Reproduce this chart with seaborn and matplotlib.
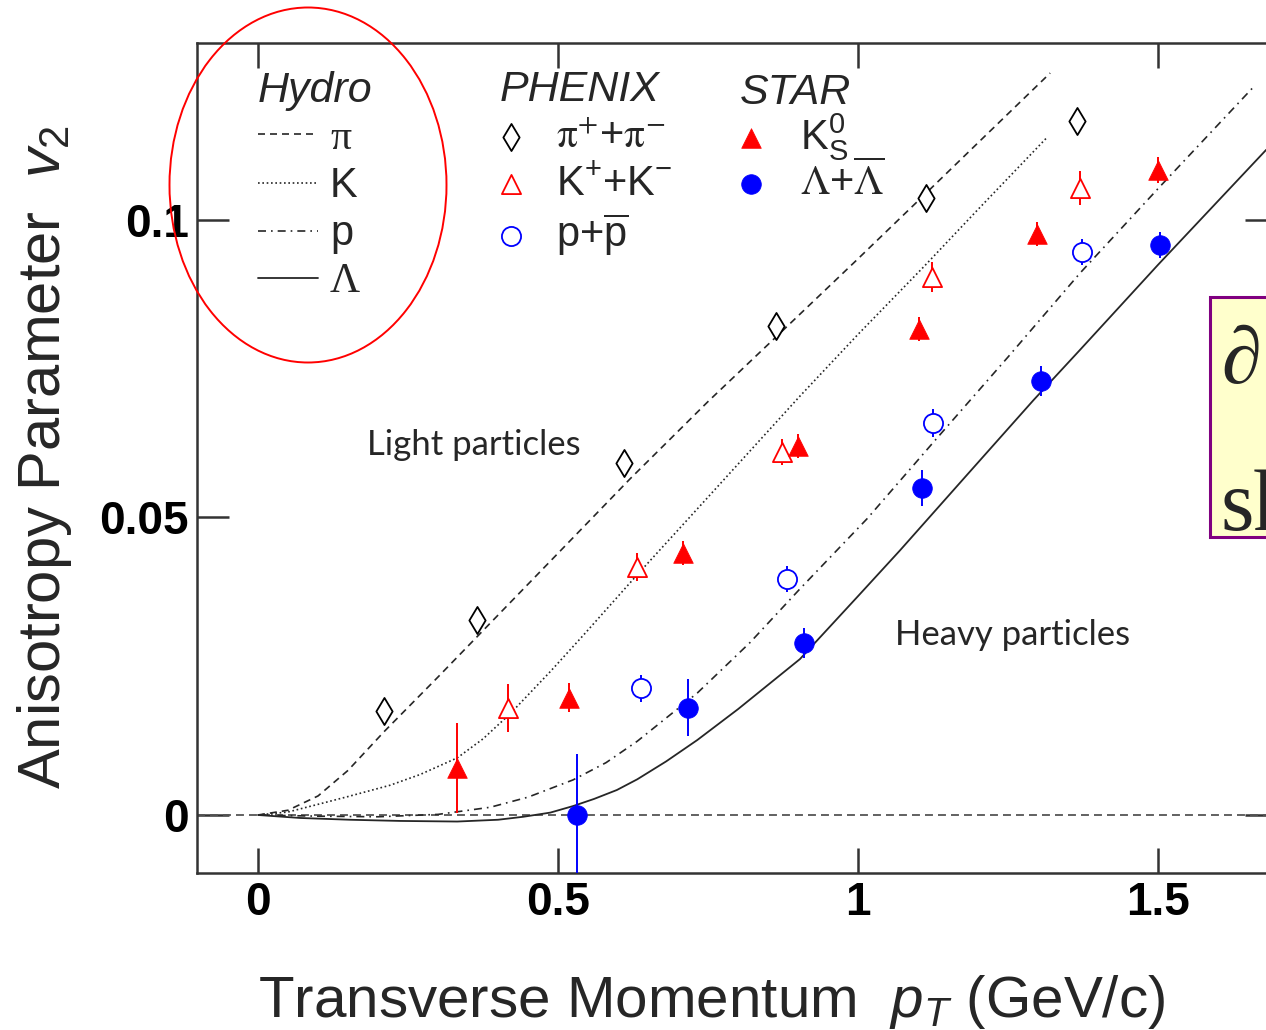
import matplotlib
matplotlib.use("Agg")
import matplotlib.pyplot as plt
import seaborn as sns
from matplotlib.patches import Ellipse, Rectangle

# ---------------- data ----------------
# Hydro curves
hydro_pi_pt = [0.0, 0.05, 0.10, 0.15, 0.21, 0.30, 0.375, 0.50, 0.62, 0.75, 0.87, 1.00, 1.11, 1.20, 1.32]
hydro_pi_v2 = [0.0, 0.0008, 0.0032, 0.0075, 0.0140, 0.0232, 0.0310, 0.0440, 0.0565, 0.0695, 0.0810, 0.0935, 0.1042, 0.1130, 0.1247]

hydro_k_pt = [0.0, 0.05, 0.108, 0.15, 0.22, 0.27, 0.332, 0.375, 0.42, 0.487, 0.542, 0.633,
              0.737, 0.82, 0.903, 1.0, 1.108, 1.2, 1.315]
hydro_k_v2 = [0.0, 0.0005, 0.0020, 0.0031, 0.0050, 0.0068, 0.0096, 0.0128, 0.0170, 0.0241, 0.0302, 0.0405,
              0.0520, 0.0612, 0.0704, 0.0808, 0.0920, 0.1018, 0.1139]

hydro_p_pt = [0.0, 0.10, 0.20, 0.30, 0.387, 0.45, 0.525, 0.58, 0.632, 0.732, 0.82, 0.903,
              1.015, 1.125, 1.25, 1.37, 1.50, 1.662]
hydro_p_v2 = [0.0, -0.0002, -0.0003, 0.0001, 0.0013, 0.0030, 0.0059, 0.0088, 0.0124, 0.0205, 0.0290, 0.0380,
              0.0498, 0.0626, 0.0770, 0.0911, 0.1053, 0.1227]

hydro_l_pt = [0.0, 0.07, 0.153, 0.237, 0.332, 0.40, 0.442, 0.487, 0.525, 0.56, 0.598, 0.632, 0.68,
              0.732, 0.80, 0.903, 1.00, 1.07, 1.18, 1.292, 1.37, 1.50, 1.68]
hydro_l_v2 = [0.0, -0.0005, -0.0008, -0.0010, -0.0011, -0.0008, -0.0003, 0.0004, 0.0015, 0.0027, 0.0042, 0.0060, 0.0090,
              0.0126, 0.0178, 0.0262, 0.0368, 0.0445, 0.0570, 0.0697, 0.0782, 0.0925, 0.1118]

# PHENIX
pi_pt = [0.21, 0.365, 0.61, 0.863, 1.113, 1.365]
pi_v2 = [0.0175, 0.0328, 0.0592, 0.0822, 0.1037, 0.1166]

kpm_pt = [0.417, 0.632, 0.873, 1.123, 1.37]
kpm_v2 = [0.0180, 0.0417, 0.0610, 0.0904, 0.1054]
kpm_err = [0.0040, 0.0023, 0.0022, 0.0025, 0.0028]

ppb_pt = [0.638, 0.882, 1.125, 1.373]
ppb_v2 = [0.0213, 0.0397, 0.0659, 0.0946]
ppb_err = [0.0023, 0.0022, 0.0023, 0.0022]

# STAR
k0s_pt = [0.332, 0.518, 0.708, 0.900, 1.102, 1.298, 1.500]
k0s_v2 = [0.0079, 0.0197, 0.0440, 0.0620, 0.0817, 0.0976, 0.1084]
k0s_err = [0.0076, 0.0024, 0.0020, 0.0020, 0.0020, 0.0020, 0.0022]

lam_pt = [0.532, 0.717, 0.910, 1.107, 1.305, 1.503]
lam_v2 = [0.0000, 0.0180, 0.0289, 0.0550, 0.0729, 0.0958]
lam_err = [0.0102, 0.0048, 0.0025, 0.0030, 0.0025, 0.0022]

x_ticks = [0, 0.5, 1, 1.5]
x_ticklabels = ["0", "0.5", "1", "1.5"]
y_ticks = [0, 0.05, 0.1]
y_ticklabels = ["0", "0.05", "0.1"]

# ---------------- style ----------------
sns.set_style("ticks")
plt.rcParams['font.family'] = ['Liberation Sans', 'DejaVu Sans']
plt.rcParams['mathtext.fontset'] = 'custom'
plt.rcParams['mathtext.rm'] = 'Liberation Sans'
plt.rcParams['mathtext.it'] = 'Liberation Sans:italic'
plt.rcParams['mathtext.bf'] = 'Liberation Sans:bold'

fig = plt.figure(figsize=(12.66, 10.30), dpi=100)
fig.patch.set_facecolor('white')
ax = fig.add_axes([197 / 1266, 157 / 1030, 1080 / 1266, 830 / 1030])
ax.set_facecolor('white')

LC = '#262626'
ax.axhline(0, color='#555555', lw=1.3, linestyle=(0, (4.4, 2.8)), zorder=1)

sns.lineplot(x=hydro_pi_pt, y=hydro_pi_v2, ax=ax, color=LC, lw=1.2,
             linestyle=(0, (4.2, 3.0)), sort=False, estimator=None, zorder=2)
l_pi = ax.lines[-1]
sns.lineplot(x=hydro_k_pt, y=hydro_k_v2, ax=ax, color=LC, lw=1.2,
             linestyle=(0, (1.0, 1.6)), sort=False, estimator=None, zorder=2)
l_k = ax.lines[-1]
sns.lineplot(x=hydro_p_pt, y=hydro_p_v2, ax=ax, color=LC, lw=1.2,
             linestyle=(0, (4.8, 3.0, 1.0, 3.0)), sort=False, estimator=None, zorder=2)
l_p = ax.lines[-1]
sns.lineplot(x=hydro_l_pt, y=hydro_l_v2, ax=ax, color=LC, lw=1.3,
             sort=False, estimator=None, zorder=2)
l_l = ax.lines[-1]

# error bars
ax.errorbar(kpm_pt, kpm_v2, yerr=kpm_err, fmt='none', ecolor='red', elinewidth=1.4, capsize=0, zorder=3)
ax.errorbar(ppb_pt, ppb_v2, yerr=ppb_err, fmt='none', ecolor='blue', elinewidth=1.4, capsize=0, zorder=3)
ax.errorbar(k0s_pt, k0s_v2, yerr=k0s_err, fmt='none', ecolor='red', elinewidth=1.4, capsize=0, zorder=3)
ax.errorbar(lam_pt, lam_v2, yerr=lam_err, fmt='none', ecolor='blue', elinewidth=1.4, capsize=0, zorder=3)

# markers
sns.scatterplot(x=pi_pt, y=pi_v2, ax=ax, marker='d', s=190, color='white',
                edgecolor='black', linewidth=1.3, zorder=5)
h_pi = ax.collections[-1]
sns.scatterplot(x=kpm_pt, y=kpm_v2, ax=ax, marker='^', s=190, color='white',
                edgecolor='red', linewidth=1.3, zorder=5)
h_kpm = ax.collections[-1]
sns.scatterplot(x=ppb_pt, y=ppb_v2, ax=ax, marker='o', s=190, color='white',
                edgecolor='blue', linewidth=1.3, zorder=5)
h_ppb = ax.collections[-1]
sns.scatterplot(x=k0s_pt, y=k0s_v2, ax=ax, marker='^', s=200, color='red',
                edgecolor='red', linewidth=0.5, zorder=5)
h_k0s = ax.collections[-1]
sns.scatterplot(x=lam_pt, y=lam_v2, ax=ax, marker='o', s=200, color='blue',
                edgecolor='blue', linewidth=0.5, zorder=5)
h_lam = ax.collections[-1]

# axes
ax.set_xlim(-0.1017, 1.698)
ax.set_ylim(-0.00975, 0.12975)
ax.set_xticks(x_ticks)
ax.set_xticklabels(x_ticklabels)
ax.set_yticks(y_ticks)
ax.set_yticklabels(y_ticklabels)
ax.minorticks_off()
ax.tick_params(axis='x', direction='in', length=18, width=1.8, top=True, bottom=True,
               pad=6, labelsize=33, colors='#333333', labelcolor='black')
ax.tick_params(axis='y', direction='in', length=23, width=1.8, left=True, right=True,
               pad=6, labelsize=33, colors='#333333', labelcolor='black')
for t in ax.get_xticklabels() + ax.get_yticklabels():
    t.set_fontweight('bold')
for sp in ax.spines.values():
    sp.set_visible(True)
    sp.set_color('#333333')
    sp.set_linewidth(1.8)

ax.set_xlabel(r"Transverse Momentum  $p_T$ (GeV/c)", fontsize=42)
ax.xaxis.set_label_coords((712 - 197) / 1080, (873 - 1017) / 830)
ax.xaxis.label.set_va('baseline')
ax.set_ylabel(r"Anisotropy Parameter  $v_2$", fontsize=43)
ax.yaxis.set_label_coords((45 - 197) / 1080, (873 - 457) / 830)
ax.yaxis.label.set_va('center')

# legends
title_fp = {'style': 'italic', 'size': 31, 'family': 'Liberation Sans'}
leg_h = ax.legend(handles=[l_pi, l_k, l_p, l_l], labels=['π', 'K', 'p', 'Λ'],
                  title='Hydro', loc='upper left', bbox_to_anchor=((258 - 197) / 1080, (873 - 71) / 830),
                  frameon=False, fontsize=30, title_fontproperties=title_fp, alignment='left',
                  handlelength=1.44, handletextpad=0.29, labelspacing=0.2, borderpad=0, borderaxespad=0)
for t in leg_h.get_texts():
    if t.get_text() in ('π', 'Λ'):
        t.set_fontfamily(['Liberation Serif', 'DejaVu Serif'])
ax.add_artist(leg_h)

leg_p = ax.legend(handles=[h_pi, h_kpm, h_ppb],
                  labels=[r"$\mathrm{\pi}^{+}$+$\mathrm{\pi}^{-}$", r"K$^{+}$+K$^{-}$", r"p+$\overline{\mathrm{p}}$"],
                  title='PHENIX', loc='upper left', bbox_to_anchor=((500 - 197) / 1080, (873 - 70) / 830),
                  frameon=False, fontsize=30, title_fontproperties=title_fp, alignment='left',
                  handlelength=0.55, handletextpad=0.8, labelspacing=0.17, borderpad=0, borderaxespad=0,
                  scatterpoints=1)
leg_p.get_texts()[0].set_math_fontfamily('stix')
ax.add_artist(leg_p)

leg_s = ax.legend(handles=[h_k0s, h_lam],
                  labels=[r"K$^{0}_{\mathrm{S}}$", r"$\mathrm{\Lambda}$+$\overline{\mathrm{\Lambda}}$"],
                  title='STAR', loc='upper left', bbox_to_anchor=((740 - 197) / 1080, (873 - 73) / 830),
                  frameon=False, fontsize=30, title_fontproperties=title_fp, alignment='left',
                  handlelength=0.55, handletextpad=0.9, labelspacing=-0.05, borderpad=0, borderaxespad=0,
                  scatterpoints=1)
leg_s.get_texts()[1].set_math_fontfamily('stix')

# annotations
ax.text((367 - 197) / 1080, (873 - 455) / 830, "Light particles", transform=ax.transAxes,
        fontsize=25, family=['Lato', 'DejaVu Sans'], va='baseline', ha='left')
ax.text((895 - 197) / 1080, (873 - 645) / 830, "Heavy particles", transform=ax.transAxes,
        fontsize=25, family=['Lato', 'DejaVu Sans'], va='baseline', ha='left')

ell = Ellipse((308 / 1266, 1 - 185 / 1030), 277 / 1266, 355 / 1030, transform=fig.transFigure,
              fill=False, edgecolor='red', lw=1.4, zorder=10)
fig.add_artist(ell)

box = Rectangle((1210 / 1266, 1 - 537 / 1030), 0.1, 240 / 1030, transform=fig.transFigure,
                facecolor='#FFFFCC', edgecolor='#800080', lw=2.2, zorder=10)
fig.add_artist(box)
fig.text(1221 / 1266, 1 - 383 / 1030, "∂", fontsize=58, family=['Liberation Serif', 'DejaVu Serif'],
         va='baseline', ha='left', zorder=11)
fig.text(1221 / 1266, 1 - 530 / 1030, "sh", fontsize=62, family=['Liberation Serif', 'DejaVu Serif'],
         va='baseline', ha='left', zorder=11)

fig.savefig("out.png", dpi=100)
